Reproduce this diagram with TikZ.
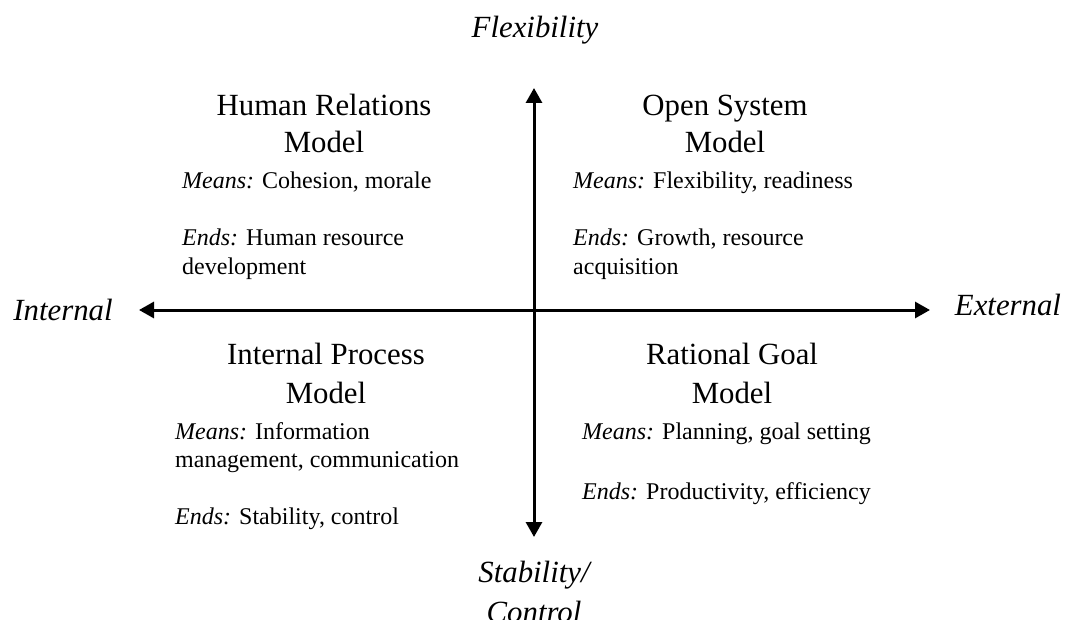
\documentclass[tikz,border=0pt]{standalone}
\usepackage{fontspec}
\setmainfont{Liberation Serif}
\usetikzlibrary{arrows.meta}
\begin{document}
\begin{tikzpicture}[x=1pt,y=-1pt,
  axisline/.style={line width=3pt, {Triangle[length=15pt,width=16pt]}-{Triangle[length=15pt,width=16pt]}},
  head/.style={anchor=base, inner sep=0pt, font=\fontsize{30.8}{35}\selectfont},
  body/.style={anchor=base west, inner sep=0pt, font=\fontsize{24}{28}\selectfont},
  dimlabel/.style={anchor=base, inner sep=0pt, font=\fontsize{30.8}{35}\selectfont\itshape}]
\useasboundingbox (0,0) rectangle (1070,620);
\clip (0,0) rectangle (1070,620);

% axis end points
\coordinate (top) at (534,88);
\coordinate (bottom) at (534,537);
\coordinate (left) at (139,310);
\coordinate (right) at (930,310);
\draw[axisline] (left) -- (right);
\draw[axisline] (top) -- (bottom);

% dimension labels
\node[dimlabel] (flex) at (535,38) {Flexibility};
\node[dimlabel] (internal) at (63,320) {Internal};
\node[dimlabel] (external) at (1008,315) {External};
\node[dimlabel] (stab) at (534,582) {Stability/};
\node[dimlabel] (ctrl) at (534,622) {Control};

% upper left quadrant
\node[head] (hr1) at (324,116) {Human Relations};
\node[head] (hr2) at (324,153) {Model};
\node[body] (hrm) at (182,189) {\textit{Means:} Cohesion, morale};
\node[body] (hre1) at (182,246) {\textit{Ends:} Human resource};
\node[body] (hre2) at (182,274) {development};

% upper right quadrant
\node[head] (os1) at (725,116) {Open System};
\node[head] (os2) at (725,153) {Model};
\node[body] (osm) at (573,189) {\textit{Means:} Flexibility, readiness};
\node[body] (ose1) at (573,246) {\textit{Ends:} Growth, resource};
\node[body] (ose2) at (573,274) {acquisition};

% lower left quadrant
\node[head] (ip1) at (326,364) {Internal Process};
\node[head] (ip2) at (326,403) {Model};
\node[body] (ipm1) at (175,439) {\textit{Means:} Information};
\node[body] (ipm2) at (175,467) {management, communication};
\node[body] (ipe) at (175,524) {\textit{Ends:} Stability, control};

% lower right quadrant
\node[head] (rg1) at (732,364) {Rational Goal};
\node[head] (rg2) at (732,403) {Model};
\node[body] (rgm) at (582,439) {\textit{Means:} Planning, goal setting};
\node[body] (rge) at (582,499) {\textit{Ends:} Productivity, efficiency};
\end{tikzpicture}
\end{document}
